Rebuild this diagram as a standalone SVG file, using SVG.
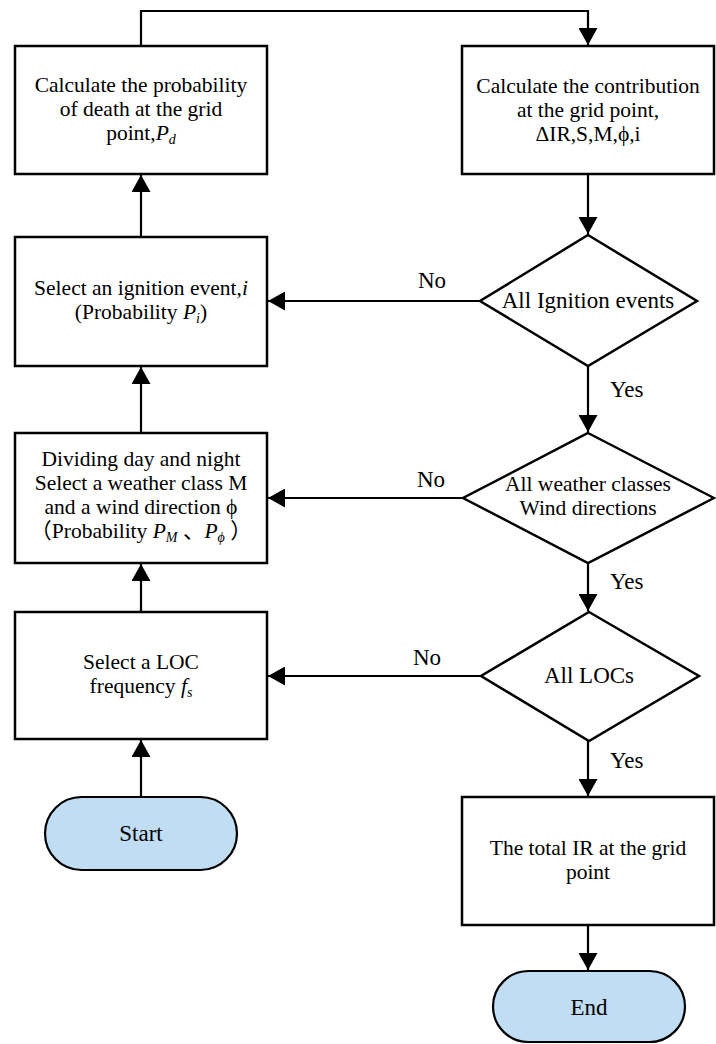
<svg xmlns="http://www.w3.org/2000/svg" width="716" height="1044" viewBox="0 0 716 1044">
<defs>
<style>
.box{fill:#fff;stroke:#000;stroke-width:2.5}
.term{fill:#c0ddf3;stroke:#000;stroke-width:2.2}
.ln{fill:none;stroke:#000;stroke-width:2.2}
text{font-family:"Liberation Serif","Times New Roman","Noto Sans CJK SC",serif;font-size:21.5px;fill:#000;text-anchor:middle}
.big{font-size:23px}
.it{font-style:italic}
.sub{font-size:14px;font-style:italic}
.lbl{text-anchor:start}
</style>
<marker id="arr" markerUnits="userSpaceOnUse" markerWidth="18" markerHeight="19" refX="17" refY="9.5" orient="auto">
<path d="M0,0 L17,9.5 L0,19 z" fill="#000"/>
</marker>
</defs>
<rect width="716" height="1044" fill="#fff"/>
<g id="connectors">
<path class="ln" d="M141,46 V11 H588 V45" marker-end="url(#arr)"/>
<path class="ln" d="M588,174 V234" marker-end="url(#arr)"/>
<path class="ln" d="M588,366 V432" marker-end="url(#arr)"/>
<path class="ln" d="M588,563 V611" marker-end="url(#arr)"/>
<path class="ln" d="M588,741 V796" marker-end="url(#arr)"/>
<path class="ln" d="M588,925 V970" marker-end="url(#arr)"/>
<path class="ln" d="M141,797 V740" marker-end="url(#arr)"/>
<path class="ln" d="M141,612 V564" marker-end="url(#arr)"/>
<path class="ln" d="M141,433 V367" marker-end="url(#arr)"/>
<path class="ln" d="M141,237 V175" marker-end="url(#arr)"/>
<path class="ln" d="M480,301 H268" marker-end="url(#arr)"/>
<path class="ln" d="M463,498 H268" marker-end="url(#arr)"/>
<path class="ln" d="M481,676 H268" marker-end="url(#arr)"/>
<text class="big" x="432" y="288">No</text>
<text class="big" x="431" y="487">No</text>
<text class="big" x="427" y="665">No</text>
<text class="big lbl" x="610" y="397">Yes</text>
<text class="big lbl" x="610" y="589">Yes</text>
<text class="big lbl" x="610" y="768">Yes</text>
</g>
<g id="death">
<rect class="box" x="15" y="46" width="252" height="128"/>
<text x="141" y="92">Calculate the probability<tspan x="141" dy="24">of death at the grid</tspan><tspan x="141" dy="24">point,</tspan><tspan class="it">P</tspan><tspan class="sub" dy="4">d</tspan></text>
</g>
<g id="contribution">
<rect class="box" x="462" y="46" width="252" height="128"/>
<text x="588" y="93">Calculate the contribution<tspan x="588" dy="24">at the grid point,</tspan><tspan x="588" dy="24">ΔIR,S,M,ϕ,i</tspan></text>
</g>
<g id="ignition">
<rect class="box" x="15" y="237" width="252" height="129"/>
<text x="141" y="295">Select an ignition event,<tspan class="it">i</tspan><tspan x="141" dy="24">(Probability </tspan><tspan class="it">P</tspan><tspan class="sub" dy="4">i</tspan><tspan dy="-4">)</tspan></text>
</g>
<g id="weather">
<rect class="box" x="15" y="433" width="252" height="130"/>
<text x="141" y="466">Dividing day and night<tspan x="141" dy="24">Select a weather class M</tspan><tspan x="141" dy="24">and a wind direction ϕ</tspan><tspan x="141" dy="24">（Probability </tspan><tspan class="it">P</tspan><tspan class="sub" dy="4">M</tspan><tspan dy="-4"> 、</tspan><tspan class="it">P</tspan><tspan class="sub" dy="4">ϕ</tspan><tspan dy="-4"> ）</tspan></text>
</g>
<g id="loc">
<rect class="box" x="15" y="612" width="252" height="127"/>
<text x="141" y="669">Select a LOC<tspan x="141" dy="24">frequency </tspan><tspan class="it">f</tspan><tspan class="sub" dy="4">s</tspan></text>
</g>
<g id="start">
<rect class="term" x="45" y="797" width="192" height="73" rx="36.5" ry="36.5"/>
<text class="big" x="141" y="841">Start</text>
</g>
<g id="d-ignition">
<polygon class="box" points="588,235 697,301 588,366 480,301"/>
<text class="big" x="588" y="308">All Ignition events</text>
</g>
<g id="d-weather">
<polygon class="box" points="588,433 714,498 588,563 463,498"/>
<text x="588" y="491">All weather classes<tspan x="588" dy="24">Wind directions</tspan></text>
</g>
<g id="d-loc">
<polygon class="box" points="589,612 699,676 589,741 481,676"/>
<text class="big" x="589" y="683">All LOCs</text>
</g>
<g id="total">
<rect class="box" x="462" y="797" width="252" height="128"/>
<text x="588" y="855">The total IR at the grid<tspan x="588" dy="24">point</tspan></text>
</g>
<g id="end">
<rect class="term" x="493" y="971" width="192" height="71" rx="35.5" ry="35.5"/>
<text class="big" x="589" y="1015">End</text>
</g>
</svg>
